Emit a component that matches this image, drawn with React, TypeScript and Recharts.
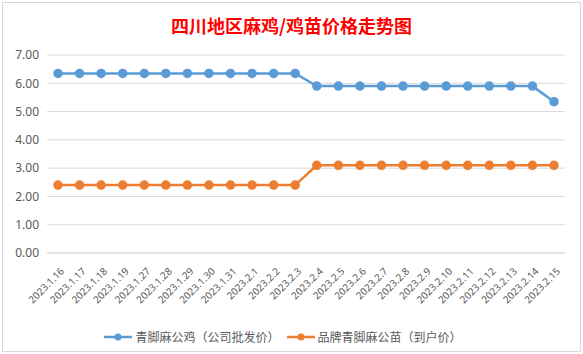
import * as React from 'react'
import { LineChart, Line, XAxis, YAxis, CartesianGrid, Legend } from 'recharts'

const dates = [
  '2023.1.16', '2023.1.17', '2023.1.18', '2023.1.19', '2023.1.27', '2023.1.28',
  '2023.1.29', '2023.1.30', '2023.1.31', '2023.2.1', '2023.2.2', '2023.2.3',
  '2023.2.4', '2023.2.5', '2023.2.6', '2023.2.7', '2023.2.8', '2023.2.9',
  '2023.2.10', '2023.2.11', '2023.2.12', '2023.2.13', '2023.2.14', '2023.2.15',
]
const roosterPrice = [
  6.35, 6.35, 6.35, 6.35, 6.35, 6.35, 6.35, 6.35, 6.35, 6.35, 6.35, 6.35,
  5.9, 5.9, 5.9, 5.9, 5.9, 5.9, 5.9, 5.9, 5.9, 5.9, 5.9, 5.35,
]
const chickPrice = [
  2.4, 2.4, 2.4, 2.4, 2.4, 2.4, 2.4, 2.4, 2.4, 2.4, 2.4, 2.4,
  3.1, 3.1, 3.1, 3.1, 3.1, 3.1, 3.1, 3.1, 3.1, 3.1, 3.1, 3.1,
]
const yTicks = [0, 1, 2, 3, 4, 5, 6, 7]

const seriesNames = ['青脚麻公鸡（公司批发价）', '品牌青脚麻公苗（到户价）']
const colors = ['#5B9BD5', '#ED7D31']

const data = dates.map((d, i) => ({ date: d, rooster: roosterPrice[i], chick: chickPrice[i] }))

const font = '"Noto Sans", "Noto Sans CJK SC", sans-serif'

function XTick({ x, y, payload }: any) {
  const ax = x + 5
  const ay = y + 9
  return (
    <text
      x={ax}
      y={ay}
      transform={`rotate(-45, ${ax}, ${ay})`}
      textAnchor="end"
      fill="#595959"
      fontSize={10}
      fontFamily={font}
      dominantBaseline="middle"
    >
      {payload.value}
    </text>
  )
}

function LegendBox() {
  return (
    <div style={{ display: 'flex', justifyContent: 'center', alignItems: 'center', fontFamily: font, fontSize: 12, color: '#595959' }}>
      {seriesNames.map((n, i) => (
        <div key={n} style={{ display: 'flex', alignItems: 'center', marginRight: i === 0 ? 6 : 0 }}>
          <svg width={30} height={10} style={{ marginRight: 2 }}>
            <line x1={1} y1={5} x2={29} y2={5} stroke={colors[i]} strokeWidth={2.5} />
            <circle cx={15} cy={5} r={3.5} fill={colors[i]} />
          </svg>
          <span>{n}</span>
        </div>
      ))}
    </div>
  )
}

export default function App() {
  return (
    <div style={{ position: 'absolute', left: 0, top: 0, width: 583, height: 354, background: '#fff' }}>
      <div style={{ position: 'absolute', left: 2, top: 2, width: 577, height: 348, border: '1px solid #d9d9d9' }} />
      <div
        style={{
          position: 'absolute', left: 0, top: 12, width: 583, textAlign: 'center',
          color: '#FF0000', fontSize: 18, fontWeight: 'bold', fontFamily: '"Noto Sans CJK SC", serif',
        }}
      >
        四川地区麻鸡/鸡苗价格走势图
      </div>
      <LineChart width={583} height={354} data={data} margin={{ top: 55, right: 18, left: 0, bottom: 8 }}>
        <CartesianGrid vertical={false} stroke="#d9d9d9" />
        <XAxis
          dataKey="date"
          interval={0}
          tick={<XTick />}
          tickLine={false}
          axisLine={{ stroke: '#d9d9d9' }}
          padding={{ left: 11, right: 11 }}
          height={75}
        />
        <YAxis
          domain={[0, 7]}
          ticks={yTicks}
          tickFormatter={(v: number) => v.toFixed(2)}
          axisLine={false}
          tickLine={false}
          width={47}
          tick={{ fill: '#595959', fontSize: 12, fontFamily: font }}
        />
        <Legend content={<LegendBox />} verticalAlign="bottom" />
        <Line
          dataKey="rooster"
          name={seriesNames[0]}
          stroke={colors[0]}
          strokeWidth={2.5}
          dot={{ r: 3.5, fill: colors[0], stroke: colors[0] }}
          isAnimationActive={false}
        />
        <Line
          dataKey="chick"
          name={seriesNames[1]}
          stroke={colors[1]}
          strokeWidth={2.5}
          dot={{ r: 3.5, fill: colors[1], stroke: colors[1] }}
          isAnimationActive={false}
        />
      </LineChart>
    </div>
  )
}
